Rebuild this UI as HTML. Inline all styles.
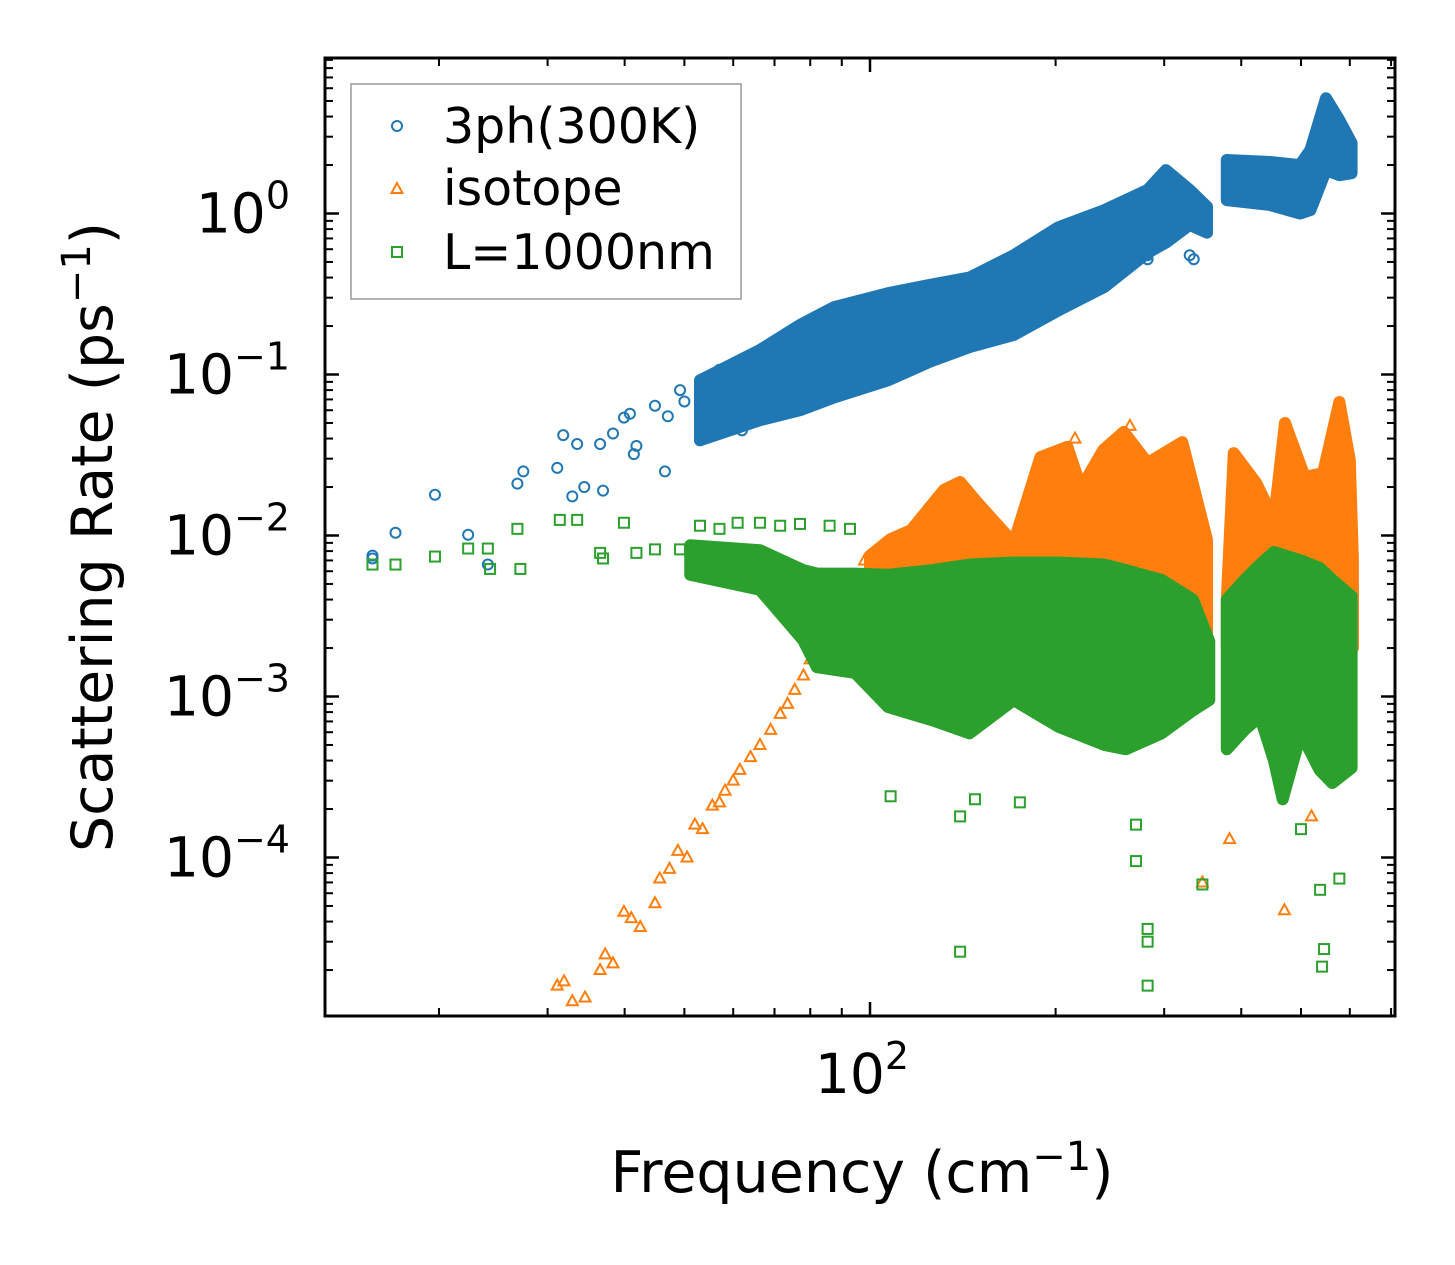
<!DOCTYPE html>
<html><head><meta charset="utf-8"><style>
html,body{margin:0;padding:0;background:#fff;}
svg{display:block;}
text{font-family:"DejaVu Sans","Liberation Sans",sans-serif;fill:#000;}
</style></head><body>
<svg id="chart" width="1455" height="1265" viewBox="0 0 1455 1265" xmlns="http://www.w3.org/2000/svg">
<rect x="0" y="0" width="1455" height="1265" fill="#fff"/>
<g id="marks"></g>
<g id="axes"></g>
<text transform="translate(112,537) rotate(-90)" text-anchor="middle" font-size="57">Scattering Rate (ps<tspan font-size="40" dy="-22">−1</tspan><tspan dy="22">)</tspan></text>
<text x="862" y="1192" text-anchor="middle" font-size="57">Frequency (cm<tspan font-size="40" dy="-22">−1</tspan><tspan dy="22">)</tspan></text>
<g>
<rect x="351" y="84" width="390" height="215" fill="#fff" stroke="#999" stroke-width="1.5"/>
<circle cx="397" cy="126" r="5" fill="none" stroke="#1f77b4" stroke-width="2"/>
<text x="443" y="143" font-size="49">3ph(300K)</text>
<path d="M397,183 L402.5,193 L391.5,193 Z" fill="none" stroke="#ff7f0e" stroke-width="2"/>
<text x="443" y="205" font-size="49">isotope</text>
<rect x="392" y="247" width="10" height="10" fill="none" stroke="#2ca02c" stroke-width="2"/>
<text x="443" y="269" font-size="49">L=1000nm</text>
</g>
</svg>
<script>
// ---- data (frequency cm^-1, rate ps^-1) ----
const blueBandF = [53,66.3,77,87.4,107,125,145,171,202,240,282,302,330,352];
const blueBandHi = [0.092,0.142,0.203,0.262,0.32,0.36,0.40,0.55,0.82,1.05,1.40,1.86,1.40,1.1];
const blueBandLo = [0.039,0.052,0.060,0.072,0.092,0.12,0.148,0.176,0.25,0.35,0.57,0.66,0.85,0.76];
const blueBand2F = [379,445,498,518,549,577,604];
const blueBand2Hi = [2.15,2.09,2.0,2.48,5.2,3.8,2.74];
const blueBand2Lo = [1.21,1.13,1.0,1.05,1.86,1.73,1.78];
const blueF = [15.6,15.6,17.0,19.7,22.3,24.0,26.8,27.4,31.1,31.8,32.9,33.5,34.4,36.5,36.9,38.3,39.9,40.8,41.4,41.8,44.8,46.5,47.0,49.2,50.0,53,54,55.5,57,61,62,143,282,282,330,335];
const blueV = [0.0072,0.0075,0.0104,0.0179,0.0101,0.0066,0.021,0.025,0.0263,0.042,0.0175,0.037,0.020,0.037,0.019,0.043,0.054,0.057,0.032,0.036,0.064,0.025,0.055,0.08,0.068,0.052,0.07,0.048,0.107,0.058,0.045,0.15,0.55,0.52,0.55,0.52];

const orangeBandF = [100,108,116.6,131.8,140,149.6,171,189,209,220,239,258,282,321,352];
const orangeBandHi = [0.0075,0.0095,0.0108,0.0192,0.0215,0.0159,0.009,0.0307,0.0355,0.0197,0.034,0.044,0.0282,0.038,0.0094];
const orangeBand2F = [379,389,423,452,471,507,543,577,600,607];
const orangeBand2Hi = [0.004,0.0325,0.0212,0.0125,0.050,0.0231,0.0244,0.0675,0.0294,0.007];
const orangeBandLo = 0.002;
const orangeF = [31.1,31.9,32.9,34.5,36.5,37.2,38.3,39.9,41.0,42.4,44.8,45.6,47.3,48.8,50.5,52,53.5,55.5,57,58.2,60,61.5,64,66.3,69,71.5,73.5,75.5,78,80,83,86,89,92.8,98,215,264,383,346,470,520];
const orangeV = [1.6e-5,1.7e-5,1.28e-5,1.35e-5,2e-5,2.5e-5,2.2e-5,4.6e-5,4.2e-5,3.7e-5,5.2e-5,7.4e-5,8.5e-5,1.1e-4,1.0e-4,1.6e-4,1.5e-4,2.1e-4,2.2e-4,2.6e-4,3.0e-4,3.5e-4,4.2e-4,5e-4,6.2e-4,7.8e-4,9e-4,1.1e-3,1.35e-3,1.7e-3,2.2e-3,2.9e-3,3.8e-3,5.3e-3,7e-3,0.04,0.048,1.3e-4,7e-5,4.7e-5,1.8e-4];

const greenBandF = [51.1,66.3,77.9,82,94.6,107,126.5,145,171,202,240,260,297,334,355];
const greenBandHi = [0.0087,0.0081,0.0061,0.0058,0.0058,0.0057,0.0061,0.0066,0.0068,0.0068,0.0066,0.0061,0.0053,0.004,0.0022];
const greenBandLo = [0.0057,0.0046,0.00224,0.00152,0.0014,0.00086,0.00071,0.00059,0.00095,0.00065,0.0005,0.00047,0.00059,0.00082,0.00095];
const greenBand2F = [379,405,429,452,467,500,536,562,604];
const greenBand2Hi = [0.004,0.0053,0.0066,0.0079,0.0076,0.0070,0.0063,0.0053,0.0042];
const greenBand2Lo = [0.00047,0.00062,0.00075,0.0004,0.00023,0.00059,0.00035,0.00029,0.00036];
const greenF = [15.6,17.0,19.7,22.3,24.0,24.2,26.8,27.1,31.4,33.5,36.5,36.9,39.9,41.8,44.8,49.2,53,57,61,66.3,71.5,77,86,92.8,108,140,140,148,175,270,270,282,282,282,346,537,545,541,577,500];
const greenV = [0.0066,0.0066,0.0074,0.0083,0.0083,0.0062,0.011,0.0062,0.0125,0.0125,0.0078,0.0072,0.012,0.0078,0.0082,0.0082,0.0115,0.011,0.012,0.012,0.0115,0.0118,0.0115,0.011,2.4e-4,2.6e-5,1.8e-4,2.3e-4,2.2e-4,1.6e-4,9.5e-5,3.6e-5,3e-5,1.6e-5,6.8e-5,6.3e-5,2.7e-5,2.1e-5,7.4e-5,1.5e-4];

// ---- axes ----
const X0 = 870, XD = 616.6, Y0 = 213.5, YD = 161;
const L = 325, R = 1395, T = 58, B = 1016;
function xs(f){ return X0 + XD*Math.log10(f/100); }
function ys(v){ return Y0 - YD*Math.log10(v); }
const NS = 'http://www.w3.org/2000/svg';
const marks = document.getElementById('marks');
const axes = document.getElementById('axes');
function mk(tag, attrs, parent){ const e=document.createElementNS(NS,tag); for(const k in attrs) e.setAttribute(k, attrs[k]); parent.appendChild(e); return e; }

const clip = mk('clipPath',{id:'pc'},marks);
mk('rect',{x:L,y:T,width:R-L,height:B-T},clip);
const g = mk('g',{'clip-path':'url(#pc)'},marks);

function band(F, hi, lo, color, name){
  let pts = F.map((f,i)=>xs(f)+','+ys(hi[i]));
  for(let i=F.length-1;i>=0;i--){ const l = Array.isArray(lo)?lo[i]:lo; pts.push(xs(F[i])+','+ys(l)); }
  const p = mk('polygon',{points:pts.join(' '),fill:color,stroke:color,'stroke-width':12,'stroke-linejoin':'round'},g);
  
  
}
function circles(F,V,color,name){
  F.forEach((f,i)=>{ const c=mk('circle',{cx:xs(f),cy:ys(V[i]),r:5,fill:'none',stroke:color,'stroke-width':2},g);
    
     });
}
function tris(F,V,color,name){
  F.forEach((f,i)=>{ const x=xs(f),y=ys(V[i]); const t=mk('path',{d:`M${x},${y-6} L${x+5.5},${y+4} L${x-5.5},${y+4} Z`,fill:'none',stroke:color,'stroke-width':2},g);
    
     });
}
function squares(F,V,color,name){
  F.forEach((f,i)=>{ const s=mk('rect',{x:xs(f)-5,y:ys(V[i])-5,width:10,height:10,fill:'none',stroke:color,'stroke-width':2},g);
    
     });
}
const BLUE='#1f77b4', ORANGE='#ff7f0e', GREEN='#2ca02c';
band(blueBandF,blueBandHi,blueBandLo,BLUE,'3ph-dense-band');
band(blueBand2F,blueBand2Hi,blueBand2Lo,BLUE,'3ph-dense-band-high');
circles(blueF,blueV,BLUE,'3ph-point');
band(orangeBandF,orangeBandHi,orangeBandLo,ORANGE,'isotope-dense-band');
band(orangeBand2F,orangeBand2Hi,orangeBandLo,ORANGE,'isotope-dense-band-high');
tris(orangeF,orangeV,ORANGE,'isotope-point');
band(greenBandF,greenBandHi,greenBandLo,GREEN,'boundary-dense-band');
band(greenBand2F,greenBand2Hi,greenBand2Lo,GREEN,'boundary-dense-band-high');
squares(greenF,greenV,GREEN,'boundary-point');

// ticks
function line(x1,y1,x2,y2,w,name){ const l=mk('line',{x1,y1,x2,y2,stroke:'#000','stroke-width':w},axes);
  
   }
const yExps = [0,-1,-2,-3,-4];
const yTickLabels = ['0','−1','−2','−3','−4'];
for(let e=-5;e<=1;e++){
  for(let m=1;m<=9;m++){
    const y = ys(m*Math.pow(10,e));
    if(y<T||y>B) continue;
    const len = m===1?14:8, w = m===1?2.5:2;
    line(L,y,L+len,y,w,'y-tick'); line(R,y,R-len,y,w,'y-tick-right');
  }
}
yExps.forEach((e,i)=>{
  const y = ys(Math.pow(10,e));
  const t = mk('text',{x:290,y:y+19,'text-anchor':'end','font-size':55},axes);
  
  
  t.innerHTML = '10<tspan font-size="38" dy="-24">'+yTickLabels[i]+'</tspan>';
});
const xMinor = [20,30,40,50,60,70,80,90,200,300,400,500,600,700];
xMinor.forEach(f=>{ const x=xs(f); line(x,B,x,B-8,2,'x-tick'); line(x,T,x,T+8,2,'x-tick-top'); });
const xMajor = [100];
const xTickLabels = ['2'];
xMajor.forEach((f,i)=>{ const x=xs(f); line(x,B,x,B-14,2.5,'x-tick-major'); line(x,T,x,T+14,2.5,'x-tick-major-top');
  const t = mk('text',{x:x-8,y:1093,'text-anchor':'middle','font-size':55},axes);
  
  
  t.innerHTML = '10<tspan font-size="38" dy="-24">'+xTickLabels[i]+'</tspan>';
});
const frame = mk('rect',{x:L,y:T,width:R-L,height:B-T,fill:'none',stroke:'#000','stroke-width':3},axes);


</script>
</body></html>
